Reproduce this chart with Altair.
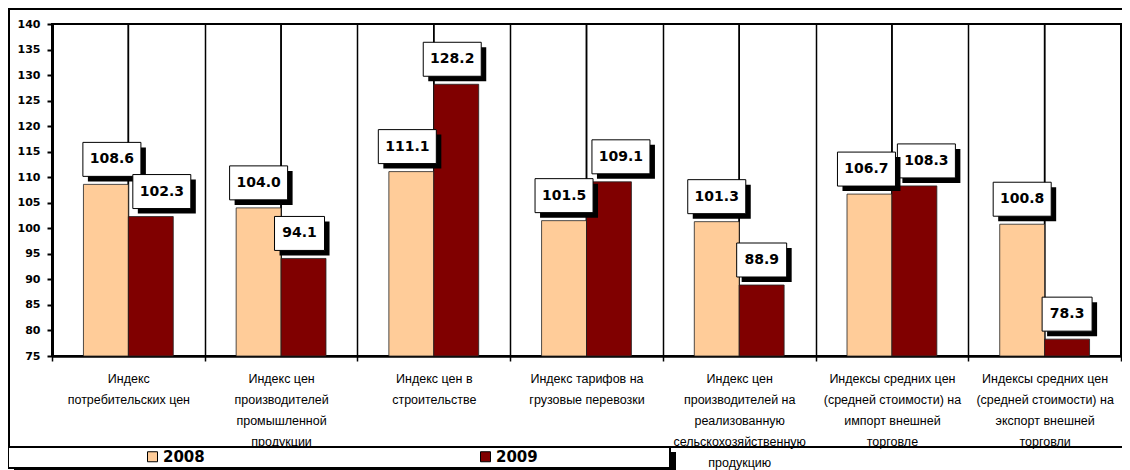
import altair as alt
import pandas as pd

categories = [
    "Индекс\nпотребительских цен",
    "Индекс цен\nпроизводителей\nпромышленной\nпродукции",
    "Индекс цен в\nстроительстве",
    "Индекс тарифов на\nгрузовые перевозки",
    "Индекс цен\nпроизводителей на\nреализованную\nсельскохозяйственную\nпродукцию",
    "Индексы средних цен\n(средней стоимости) на\nимпорт внешней\nторговле",
    "Индексы средних цен\n(средней стоимости) на\nэкспорт внешней\nторговли",
]
years = ["2008", "2009"]
values_2008 = [108.6, 104.0, 111.1, 101.5, 101.3, 106.7, 100.8]
values_2009 = [102.3, 94.1, 128.2, 109.1, 88.9, 108.3, 78.3]
y_ticks = [75, 80, 85, 90, 95, 100, 105, 110, 115, 120, 125, 130, 135, 140]
colors = ["#FFCC99", "#800000"]

rows = []
for i, (c, a, b) in enumerate(zip(categories, values_2008, values_2009)):
    rows.append({"cat": c, "year": years[0], "v": a, "key": f"{i}-{years[0]}"})
    rows.append({"cat": c, "year": years[1], "v": b, "key": f"{i}-{years[1]}"})
df = pd.DataFrame(rows)

X = alt.X("cat:N", sort=categories, scale=alt.Scale(paddingInner=0, paddingOuter=0),
          axis=alt.Axis(title=None, labelExpr="split(datum.label, '\\n')", labelAngle=0,
                        labelFont="Liberation Sans", labelFontSize=12.5, labelLineHeight=21,
                        labelPadding=11, labelLimit=300, labelOverlap=False,
                        labelBaseline="top", labelColor="black",
                        tickBand="extent", grid=True, gridColor="black", gridWidth=1.5,
                        tickColor="black", tickSize=5, tickWidth=1.5,
                        domainColor="black", domainWidth=2.5))
XO = alt.XOffset("year:N", sort=years, scale=alt.Scale(paddingInner=0, paddingOuter=0.7))
Y = alt.Y("v:Q", scale=alt.Scale(domain=[75, 140], nice=False, zero=False),
          axis=alt.Axis(values=y_ticks, title=None, grid=False,
                        labelFont="DejaVu Sans", labelFontWeight="bold", labelFontSize=11,
                        labelPadding=7, labelColor="black",
                        tickSize=5, tickWidth=2, tickColor="black",
                        domainWidth=3, domainColor="black"))

one = alt.Data(values=[{}])

frame = alt.Chart(one).mark_rect(fillOpacity=0, stroke="black", strokeWidth=2).encode(
    x=alt.value(-43), x2=alt.value(1080), y=alt.value(-15), y2=alt.value(423))

leg_shadow = alt.Chart(one).mark_rect(fill="black").encode(
    x=alt.value(-38), x2=alt.value(624), y=alt.value(428), y2=alt.value(450))
leg_box = alt.Chart(one).mark_rect(fill="white", stroke="black", strokeWidth=2).encode(
    x=alt.value(-44), x2=alt.value(618), y=alt.value(423), y2=alt.value(444))

center_rules = alt.Chart(df).mark_rule(color="black", strokeWidth=1.5).encode(x=X)

bars = alt.Chart(df).mark_bar(stroke="#222", strokeWidth=0.8).encode(
    x=X, xOffset=XO, y=Y, y2=alt.datum(75),
    color=alt.Color("year:N", sort=years, scale=alt.Scale(domain=years, range=colors),
                    legend=alt.Legend(orient="none", legendX=93, legendY=425,
                                      direction="horizontal", title=None,
                                      symbolType="square", symbolSize=100,
                                      symbolStrokeColor="black", symbolStrokeWidth=1,
                                      labelFont="DejaVu Sans", labelFontWeight="bold",
                                      labelFontSize=15, labelOffset=3, columnPadding=273,
                                      padding=0, labelColor="black")))

# label-box placement (Excel-style manual nudges, in pixels)
UNIT = 30.0          # pixels per path unit
SIZE = (2 * UNIT) ** 2
BOX_H = 34
GAP = 8
SHADOW = 5
nudges = {"0-2008": 6, "0-2009": 11, "1-2009": -4, "2-2008": -4, "2-2009": -4,
          "3-2009": 12, "5-2008": -3, "5-2009": 12}


def rect_path(w, dx, shift):
    x0 = (dx - w / 2 + shift) / UNIT
    x1 = (dx + w / 2 + shift) / UNIT
    y0 = (-(GAP + BOX_H) + shift) / UNIT
    y1 = (-GAP + shift) / UNIT
    return f"M{x0:.3f},{y0:.3f}L{x1:.3f},{y0:.3f}L{x1:.3f},{y1:.3f}L{x0:.3f},{y1:.3f}Z"


def label_layers(test, dx):
    out = []
    for wtest, w in (("datum.v >= 100", 58), ("datum.v < 100", 50)):
        base = alt.Chart(df).transform_filter(f"({test}) && {wtest}")
        out.append(base.mark_point(shape=rect_path(w, dx, SHADOW), size=SIZE,
                                   filled=True, fill="black", opacity=1)
                   .encode(x=X, xOffset=XO, y=Y))
        out.append(base.mark_point(shape=rect_path(w, dx, 0), size=SIZE,
                                   filled=True, fill="white", stroke="black",
                                   strokeWidth=1, opacity=1)
                   .encode(x=X, xOffset=XO, y=Y))
    out.append(alt.Chart(df).transform_filter(test)
               .mark_text(font="DejaVu Sans", fontWeight="bold", fontSize=14,
                          color="black", dx=dx, dy=-(GAP + BOX_H / 2), baseline="middle")
               .encode(x=X, xOffset=XO, y=Y, text=alt.Text("v:Q", format=".1f")))
    return out


label_parts = []
groups = {}
for k, d in nudges.items():
    groups.setdefault(d, []).append(k)
for d, keys in groups.items():
    test = " || ".join(f"datum.key == '{k}'" for k in keys)
    label_parts += label_layers(test, d)
rest = " && ".join(f"datum.key != '{k}'" for k in nudges)
label_parts += label_layers(rest, 0)

chart = alt.layer(frame, leg_shadow, leg_box, center_rules, bars, *label_parts).properties(
    width=1069, height=332,
    autosize=alt.AutoSizeParams(type="none"),
    padding={"left": 44, "top": 16, "right": 1, "bottom": 114},
    background="white",
).configure_view(stroke="black", strokeWidth=2)

chart.save("out.html", embed_options={"renderer": "svg", "actions": False})
